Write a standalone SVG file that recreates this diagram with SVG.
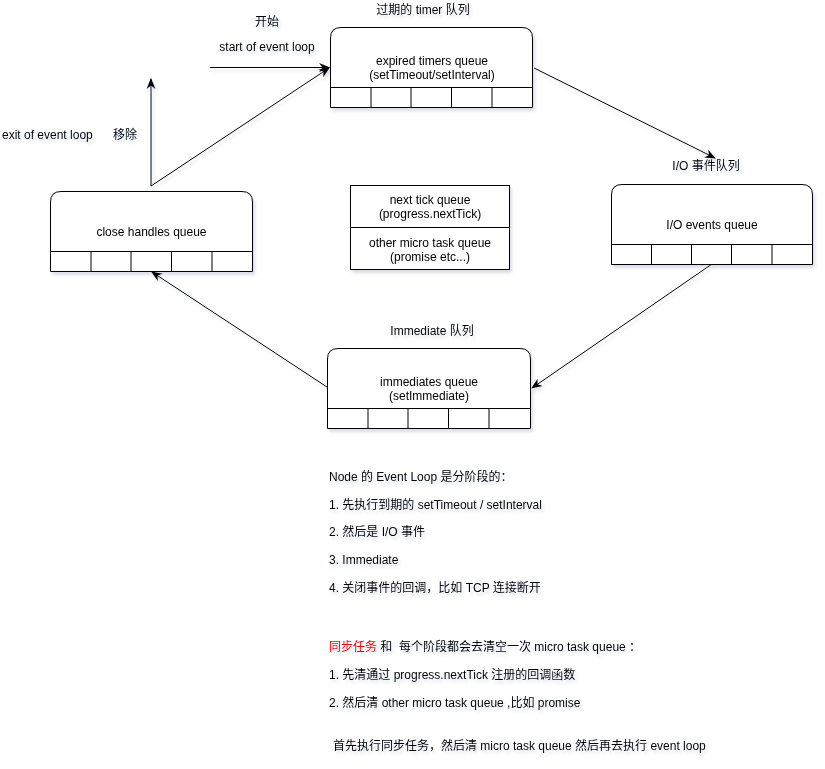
<svg xmlns="http://www.w3.org/2000/svg" width="825" height="769" viewBox="0 0 825 769">
<style>
text{font-family:"Liberation Sans","Noto Sans CJK SC",Arial,sans-serif;font-size:12px;fill:#000}
.c{text-anchor:middle}
.box{fill:#fff;stroke:#000;stroke-width:1}
.ln{fill:none;stroke:#000;stroke-width:1}
.red{fill:#ff0000}
</style>
<defs>
<filter id="sh" x="-10%" y="-10%" width="130%" height="140%">
<feGaussianBlur in="SourceAlpha" stdDeviation="1.5"/>
<feOffset dx="2" dy="3" result="b"/>
<feFlood flood-color="#5a6a9a" flood-opacity="0.22"/>
<feComposite in2="b" operator="in"/>
<feMerge><feMergeNode/><feMergeNode in="SourceGraphic"/></feMerge>
</filter>
<marker id="ar" viewBox="0 0 10 10" refX="9" refY="5" markerWidth="11" markerHeight="11" markerUnits="userSpaceOnUse" orient="auto">
<path d="M0,1 L10,5 L0,9 L3,5 Z" fill="#000"/>
</marker>
</defs>
<g filter="url(#sh)">
<g id="connectors">
<line class="ln" x1="210" y1="67.5" x2="329" y2="67.5" marker-end="url(#ar)"/>
<line class="ln" x1="151" y1="186" x2="329" y2="68" marker-end="url(#ar)"/>
<line class="ln" x1="151" y1="186" x2="151" y2="79" marker-end="url(#ar)"/>
<line class="ln" x1="534" y1="68" x2="715" y2="158" marker-end="url(#ar)"/>
<line class="ln" x1="712" y1="264" x2="532" y2="388" marker-end="url(#ar)"/>
<line class="ln" x1="327" y1="387" x2="152" y2="272" marker-end="url(#ar)"/>
</g>
<g id="timers">
<path class="box" d="M330.5,107.5 V38 Q330.5,27.5 341,27.5 H522 Q532.5,27.5 532.5,38 V107.5 Z"/>
<path class="ln" d="M330.5,87.5 H532.5 M371,87.5 V107.5 M411,87.5 V107.5 M451.5,87.5 V107.5 M492,87.5 V107.5"/>
<text class="c" x="432" y="65">expired timers queue</text>
<text class="c" x="432" y="79">(setTimeout/setInterval)</text>
</g>
<g id="close">
<path class="box" d="M50.5,271.5 V202 Q50.5,191.5 61,191.5 H242 Q252.5,191.5 252.5,202 V271.5 Z"/>
<path class="ln" d="M50.5,251.5 H252.5 M91,251.5 V271.5 M131,251.5 V271.5 M171.5,251.5 V271.5 M212,251.5 V271.5"/>
<text class="c" x="151.5" y="236">close handles queue</text>
</g>
<g id="io">
<path class="box" d="M611.5,264.5 V195 Q611.5,184.5 622,184.5 H802 Q812.5,184.5 812.5,195 V264.5 Z"/>
<path class="ln" d="M611.5,244.5 H812.5 M651.5,244.5 V264.5 M691.5,244.5 V264.5 M731.5,244.5 V264.5 M772,244.5 V264.5"/>
<text class="c" x="712" y="229">I/O events queue</text>
</g>
<g id="immediates">
<path class="box" d="M327.5,428.5 V359 Q327.5,348.5 338,348.5 H520 Q530.5,348.5 530.5,359 V428.5 Z"/>
<path class="ln" d="M327.5,408.5 H530.5 M368,408.5 V428.5 M408,408.5 V428.5 M448.5,408.5 V428.5 M489,408.5 V428.5"/>
<text class="c" x="429" y="386">immediates queue</text>
<text class="c" x="429" y="400">(setImmediate)</text>
</g>
<g id="micro">
<rect class="box" x="350.5" y="185.5" width="159" height="84"/>
<line class="ln" x1="350.5" y1="227.5" x2="509.5" y2="227.5"/>
<text class="c" x="430" y="204">next tick queue</text>
<text class="c" x="430" y="218">(progress.nextTick)</text>
<text class="c" x="430" y="247">other micro task queue</text>
<text class="c" x="430" y="261">(promise etc...)</text>
</g>
<g id="labels">
<text class="c" x="267" y="26">开始</text>
<text class="c" x="267" y="51">start of event loop</text>
<text class="c" x="423" y="14">过期的 timer 队列</text>
<text x="2" y="139">exit of event loop</text>
<text x="113" y="139">移除</text>
<text class="c" x="706" y="170">I/O 事件队列</text>
<text class="c" x="432" y="335">Immediate 队列</text>
</g>
<g id="notes">
<text x="329" y="481">Node 的 Event Loop 是分阶段的：</text>
<text x="329" y="509">1. 先执行到期的 setTimeout / setInterval</text>
<text x="329" y="536">2. 然后是 I/O 事件</text>
<text x="329" y="564">3. Immediate</text>
<text x="329" y="592">4. 关闭事件的回调，比如 TCP 连接断开</text>
<text x="329" y="651"><tspan class="red">同步任务</tspan> 和 &#160;每个阶段都会去清空一次 micro task queue&#160;：</text>
<text x="329" y="679">1. 先清通过 progress.nextTick 注册的回调函数</text>
<text x="329" y="707">2. 然后清 other micro task queue ,比如 promise</text>
<text x="333" y="750">首先执行同步任务，然后清 micro task queue 然后再去执行 event loop</text>
</g>
</g>
</svg>
